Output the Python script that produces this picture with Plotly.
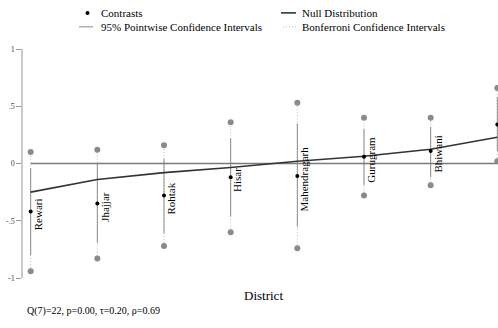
import plotly.graph_objects as go

districts = ["Rewari", "Jhajjar", "Rohtak", "Hisar", "Mahendragarh", "Gurugram", "Bhiwani", "Sonipat"]
contrast = [-0.42, -0.35, -0.28, -0.12, -0.11, 0.06, 0.11, 0.34]
pw_low = [-0.80, -0.69, -0.61, -0.46, -0.55, -0.19, -0.12, 0.11]
pw_high = [-0.04, 0.00, 0.04, 0.22, 0.35, 0.30, 0.32, 0.58]
bf_low = [-0.94, -0.83, -0.72, -0.60, -0.74, -0.28, -0.19, 0.02]
bf_high = [0.10, 0.12, 0.16, 0.36, 0.53, 0.40, 0.40, 0.66]
null_dist = [-0.25, -0.14, -0.08, -0.035, 0.02, 0.063, 0.125, 0.23]
ytick_vals = [-1, -0.5, 0, 0.5, 1]
ytick_text = ["-1", "-.5", "0", ".5", "1"]
stats_text = "Q(7)=22, p=0.00, τ=0.20, ρ=0.69"

W, H = 498, 328
L, R, T, B = 23, 0, 48.7, 49.7
PH = H - T - B
PW = W - L - R
FONT = "Liberation Serif"
DOT = "1px,2px"


def py(ypix):
    return (H - B - ypix) / PH


def px(xpix):
    return (xpix - L) / PW


x = list(range(len(districts)))
fig = go.Figure()

# Bonferroni intervals (dotted)
bx, by = [], []
for i in x:
    bx += [i, i, None]
    by += [bf_low[i], bf_high[i], None]
fig.add_trace(go.Scatter(x=bx, y=by, mode="lines",
                         line=dict(color="#bdbdbd", width=1, dash=DOT),
                         hoverinfo="skip", showlegend=False))
# Pointwise intervals
wx, wy = [], []
for i in x:
    wx += [i, i, None]
    wy += [pw_low[i], pw_high[i], None]
fig.add_trace(go.Scatter(x=wx, y=wy, mode="lines",
                         line=dict(color="#8c8c8c", width=1),
                         hoverinfo="skip", showlegend=False))
# Bonferroni end points
fig.add_trace(go.Scatter(x=x + x, y=bf_low + bf_high, mode="markers",
                         marker=dict(color="#8a8a8a", size=6),
                         hoverinfo="skip", showlegend=False))
# zero line
fig.add_trace(go.Scatter(x=[x[0], x[-1]], y=[0, 0], mode="lines",
                         line=dict(color="#7a7a7a", width=1.3),
                         hoverinfo="skip", showlegend=False))
# null distribution
fig.add_trace(go.Scatter(x=x, y=null_dist, mode="lines",
                         line=dict(color="#333333", width=1.6),
                         showlegend=False))
# contrasts
fig.add_trace(go.Scatter(x=x, y=contrast, mode="markers",
                         marker=dict(color="black", size=4),
                         showlegend=False))

annotations = []
for i, name in enumerate(districts):
    annotations.append(dict(x=i, y=contrast[i], xref="x", yref="y", text=name,
                            textangle=-90, showarrow=False, xanchor="left",
                            yanchor="middle", yshift=-3, xshift=-1,
                            font=dict(family=FONT, size=11, color="black")))

annotations.append(dict(x=px(263), y=py(296), xref="paper", yref="paper",
                        text="District", showarrow=False, xanchor="center",
                        yanchor="middle", font=dict(family=FONT, size=13, color="black")))
annotations.append(dict(x=px(25), y=py(311), xref="paper", yref="paper",
                        text=stats_text, showarrow=False, xanchor="left",
                        yanchor="middle", font=dict(family=FONT, size=10, color="black")))

# manual legend
legend_items = [
    ("Contrasts", 101, 12.5),
    ("Null Distribution", 302, 12.5),
    ("95% Pointwise Confidence Intervals", 101, 26.5),
    ("Bonferroni Confidence Intervals", 302, 26.5),
]
for txt, lx, ly in legend_items:
    annotations.append(dict(x=px(lx), y=py(ly), xref="paper", yref="paper",
                            text=txt, showarrow=False, xanchor="left", yanchor="middle",
                            xshift=-2,
                            font=dict(family=FONT, size=11, color="black")))

shapes = [
    dict(type="circle", xref="paper", yref="paper",
         x0=px(85.5), x1=px(89.5), y0=py(14.5), y1=py(10.5),
         fillcolor="black", line=dict(width=0)),
    dict(type="line", xref="paper", yref="paper",
         x0=px(281), x1=px(296), y0=py(12.5), y1=py(12.5),
         line=dict(color="#333333", width=1.6)),
    dict(type="line", xref="paper", yref="paper",
         x0=px(79), x1=px(93), y0=py(26.5), y1=py(26.5),
         line=dict(color="#8c8c8c", width=1)),
    dict(type="line", xref="paper", yref="paper",
         x0=px(283), x1=px(296), y0=py(26.5), y1=py(26.5),
         line=dict(color="#bdbdbd", width=1, dash=DOT)),
]

fig.update_layout(
    width=W, height=H,
    margin=dict(l=L, r=R, t=T, b=B, pad=0),
    paper_bgcolor="white", plot_bgcolor="white",
    showlegend=False,
    annotations=annotations,
    shapes=shapes,
    font=dict(family=FONT),
    xaxis=dict(range=[-0.115, 7.01], showticklabels=False, showgrid=False,
               zeroline=False, showline=False, ticks=""),
    yaxis=dict(range=[-1, 1], tickvals=ytick_vals, ticktext=ytick_text,
               showgrid=False, zeroline=False, showline=True,
               linecolor="#c8c8c8", linewidth=1.5, ticks="outside", ticklen=5,
               tickcolor="#9a9a9a", tickwidth=1,
               tickfont=dict(family=FONT, size=8, color="#444444")),
)

fig.write_html("out.html")
